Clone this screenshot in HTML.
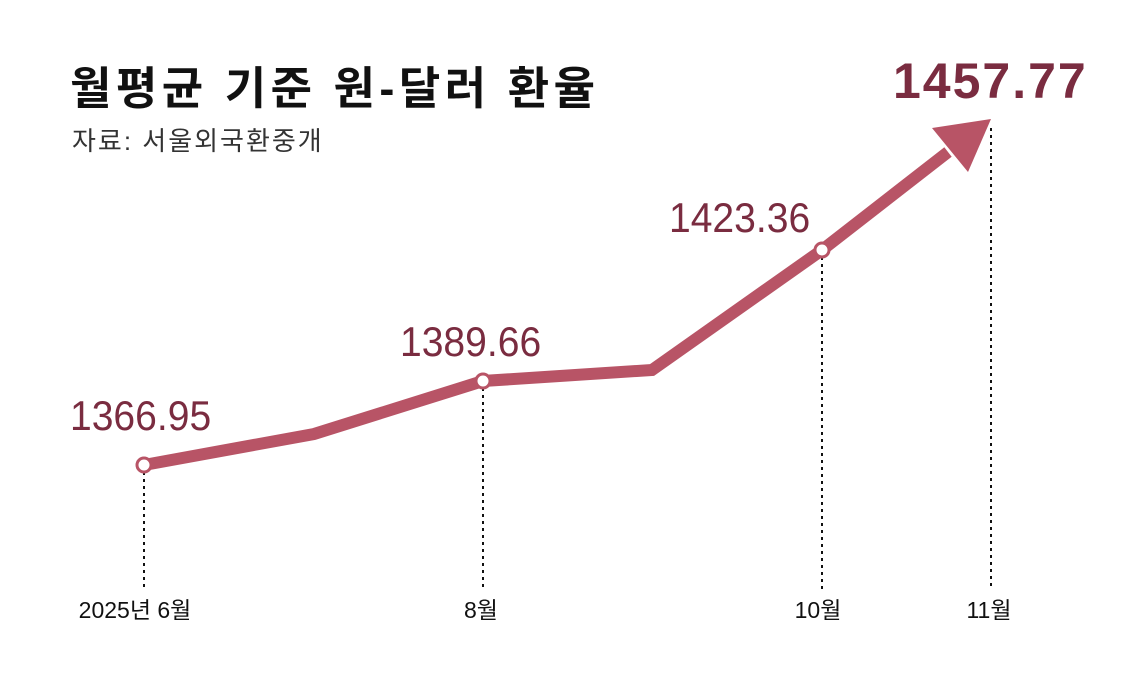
<!DOCTYPE html>
<html><head><meta charset="utf-8"><style>
body{margin:0;background:#fff;}
svg text{font-family:"Liberation Sans","Noto Sans CJK KR",sans-serif;}
</style></head><body>
<svg width="1135" height="680" viewBox="0 0 1135 680" xmlns="http://www.w3.org/2000/svg">
<text x="70" y="104" font-size="45" font-weight="bold" fill="#111" letter-spacing="4.5">월평균 기준 원-달러 환율</text>
<text x="72" y="150" font-size="26" fill="#333" letter-spacing="2">자료: 서울외국환중개</text>
<g stroke="#111" stroke-width="2" stroke-dasharray="3,4">
<line x1="144" y1="472" x2="144" y2="590"/>
<line x1="483" y1="388" x2="483" y2="590"/>
<line x1="822" y1="257" x2="822" y2="590"/>
<line x1="991" y1="128" x2="991" y2="590"/>
</g>
<polyline points="144,465 314,434 483,381 652,370 822,250 948,152" fill="none" stroke="#b85466" stroke-width="12" stroke-linejoin="miter"/>
<polygon points="991,119 932,128 968,172" fill="#b85466"/>
<g fill="#fff" stroke="#b85466" stroke-width="3">
<circle cx="144" cy="465" r="7"/><circle cx="483" cy="381" r="7"/><circle cx="822" cy="250" r="7"/>
</g>
<g fill="#7a2c40" font-size="42">
<text transform="translate(70,430) scale(0.93,1)">1366.95</text>
<text transform="translate(400,356) scale(0.93,1)">1389.66</text>
<text transform="translate(669,232) scale(0.93,1)">1423.36</text>
</g>
<text x="893" y="98" font-size="50" font-weight="bold" fill="#7a2c40" letter-spacing="2">1457.77</text>
<g font-size="23" fill="#111" text-anchor="middle">
<text x="135" y="618">2025년 6월</text>
<text x="481" y="618">8월</text>
<text x="818" y="618">10월</text>
<text x="989" y="618">11월</text>
</g>
</svg>
</body></html>
